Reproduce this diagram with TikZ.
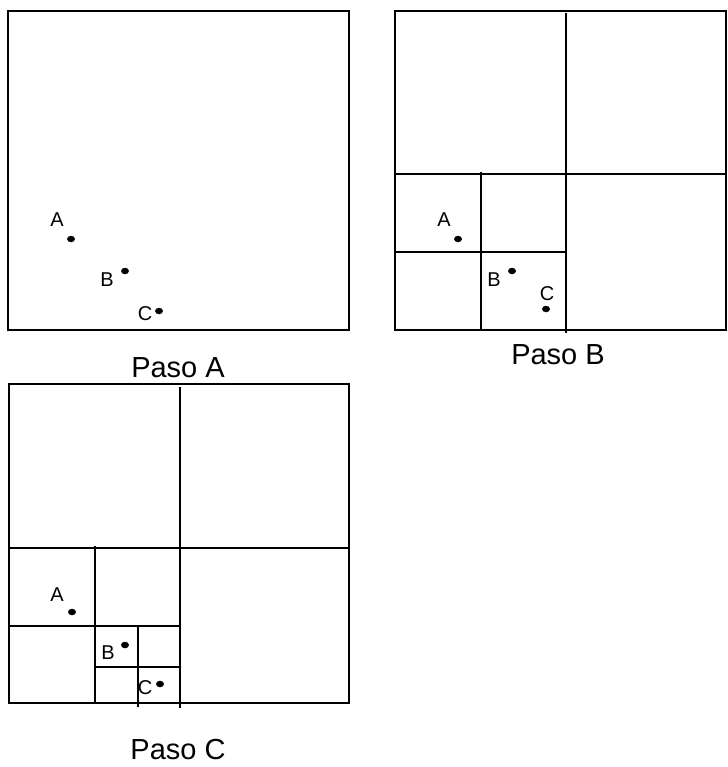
\documentclass[tikz,border=0pt]{standalone}
\usepackage{fontspec}
\setmainfont{Liberation Sans}
\usetikzlibrary{shapes.geometric}
\begin{document}
\begin{tikzpicture}[x=1pt,y=-1pt,
        % Configuración de los puntos (negros)
        punto/.style={ellipse, fill=black, inner sep=0pt, minimum width=8pt, minimum height=6.5pt},
        % Letras de los puntos
        etiqueta/.style={inner sep=0pt, font=\fontsize{20}{20}\selectfont},
        % Títulos de cada paso
        titulo/.style={inner sep=0pt, font=\fontsize{29}{29}\selectfont},
        % Líneas de la división
        linea/.style={black, line width=1.4pt}
    ]
    \useasboundingbox (0,0) rectangle (727,767);

    % Paso A: un solo cuadrado
    \draw[linea] (8,11) rectangle (349,330);
    \node[punto] (pA1) at (71,239) {};
    \node[punto] (pB1) at (125,271) {};
    \node[punto] (pC1) at (159,311) {};
    \node[etiqueta] (lA1) at (57,220) {A};
    \node[etiqueta] (lB1) at (107,280) {B};
    \node[etiqueta] (lC1) at (145,314) {C};
    \node[titulo] (tA) at (178,368) {Paso A};

    % Paso B: primera y segunda división
    \draw[linea] (395,11) rectangle (726,330);
    \draw[linea] (566,13) -- (566,333);
    \draw[linea] (395,174) -- (726,174);
    \draw[linea] (481,172) -- (481,330);
    \draw[linea] (395,252) -- (566,252);
    \node[punto] (pA2) at (458,239) {};
    \node[punto] (pB2) at (512,271) {};
    \node[punto] (pC2) at (546,309) {};
    \node[etiqueta] (lA2) at (444,220) {A};
    \node[etiqueta] (lB2) at (494,280) {B};
    \node[etiqueta] (lC2) at (547,294) {C};
    \node[titulo] (tB) at (558,355) {Paso B};

    % Paso C: tercera división
    \draw[linea] (9,384) rectangle (349,703);
    \draw[linea] (180,387) -- (180,708);
    \draw[linea] (9,548) -- (349,548);
    \draw[linea] (95,546) -- (95,703);
    \draw[linea] (9,626) -- (180,626);
    \draw[linea] (138,626) -- (138,707);
    \draw[linea] (95,667) -- (180,667);
    \node[punto] (pA3) at (72,612) {};
    \node[punto] (pB3) at (125,645) {};
    \node[punto] (pC3) at (160,684) {};
    \node[etiqueta] (lA3) at (57,595) {A};
    \node[etiqueta] (lB3) at (108,653) {B};
    \node[etiqueta] (lC3) at (145,688) {C};
    \node[titulo] (tC) at (178,750) {Paso C};

\end{tikzpicture}
\end{document}
